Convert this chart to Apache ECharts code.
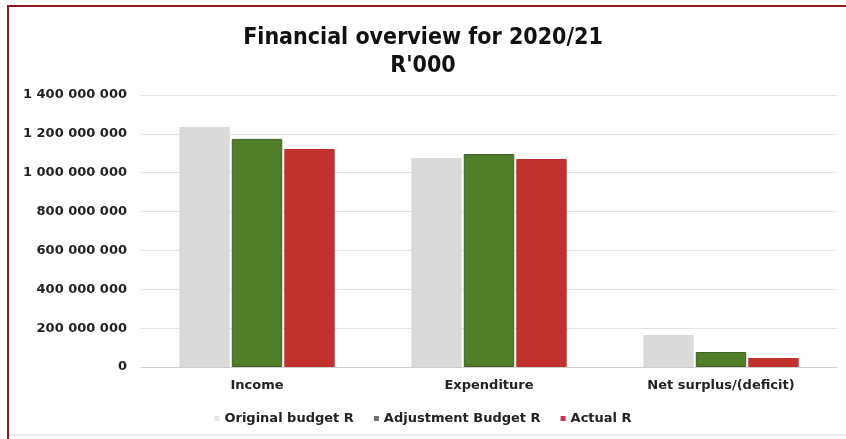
<!DOCTYPE html>
<html>
<head>
<meta charset="utf-8">
<script src="https://cdn.jsdelivr.net/npm/echarts@6/dist/echarts.min.js"></script>
<style>
  html, body { margin: 0; padding: 0; background: #ffffff; }
  #chart { width: 846px; height: 439px; }
</style>
</head>
<body>
<div id="chart"></div>
<script>
// Categories and values (R)
const categories = ['Income', 'Expenditure', 'Net surplus/(deficit)'];
const originalBudget = [1235000000, 1076000000, 165000000];
const adjustmentBudget = [1174000000, 1096000000, 77000000];
const actual = [1122000000, 1071000000, 46000000];
const seriesNames = ['Original budget R', 'Adjustment Budget R', 'Actual R'];

const fontFamily = '"DejaVu Sans", Verdana, sans-serif';

function fmt(v) {
  return String(v).replace(/\B(?=(\d{3})+(?!\d))/g, ' ');
}

const chart = echarts.init(document.getElementById('chart'), null, { renderer: 'canvas' });

chart.setOption({
  backgroundColor: '#ffffff',
  animation: false,
  title: {
    text: 'Financial overview for 2020/21\nR\'000',
    left: 'center',
    top: 19,
    textStyle: {
      fontFamily: '"DejaVu Sans Condensed", "DejaVu Sans", sans-serif',
      fontWeight: 'bold',
      fontSize: 23,
      lineHeight: 28,
      color: '#111111'
    }
  },
  graphic: [
    {
      type: 'rect',
      shape: { x: 8, y: 6, width: 860, height: 460 },
      style: { fill: 'none', stroke: '#8b1a1a', lineWidth: 2 },
      silent: true
    },
    {
      type: 'line',
      shape: { x1: 9, y1: 435, x2: 846, y2: 435 },
      style: { stroke: '#d6d6d6', lineWidth: 1 },
      silent: true
    }
  ],
  legend: {
    bottom: 9,
    left: 'center',
    itemWidth: 5,
    itemHeight: 5,
    itemGap: 20,
    icon: 'rect',
    textStyle: { fontFamily: fontFamily, fontWeight: 'bold', fontSize: 13, color: '#222222' },
    data: [
      { name: seriesNames[0], itemStyle: { color: '#e6e6e6', borderWidth: 0 } },
      { name: seriesNames[1], itemStyle: { color: '#707070', borderWidth: 0 } },
      { name: seriesNames[2], itemStyle: { color: '#c8354a', borderWidth: 0 } }
    ]
  },
  grid: { left: 141, right: 9, top: 95, bottom: 72 },
  xAxis: {
    type: 'category',
    data: categories,
    axisTick: { show: false },
    axisLine: { lineStyle: { color: '#cfcfcf', width: 1 } },
    axisLabel: {
      fontFamily: fontFamily,
      fontWeight: 'bold',
      fontSize: 13,
      color: '#222222',
      margin: 12
    }
  },
  yAxis: {
    type: 'value',
    min: 0,
    max: 1400000000,
    interval: 200000000,
    axisLine: { show: false },
    axisTick: { show: false },
    splitLine: { lineStyle: { color: '#e3e3e3', width: 1 } },
    axisLabel: {
      fontFamily: fontFamily,
      fontWeight: 'bold',
      fontSize: 13,
      color: '#222222',
      margin: 14,
      formatter: fmt
    }
  },
  series: [
    {
      name: seriesNames[0],
      type: 'bar',
      data: originalBudget,
      barGap: '4%',
      barCategoryGap: '33%',
      itemStyle: { color: '#dadada' }
    },
    {
      name: seriesNames[1],
      type: 'bar',
      data: adjustmentBudget,
      itemStyle: { color: '#4f7d28', borderColor: '#3f5f24', borderWidth: 1 }
    },
    {
      name: seriesNames[2],
      type: 'bar',
      data: actual,
      itemStyle: { color: '#c0312f' }
    }
  ]
});
</script>
</body>
</html>
